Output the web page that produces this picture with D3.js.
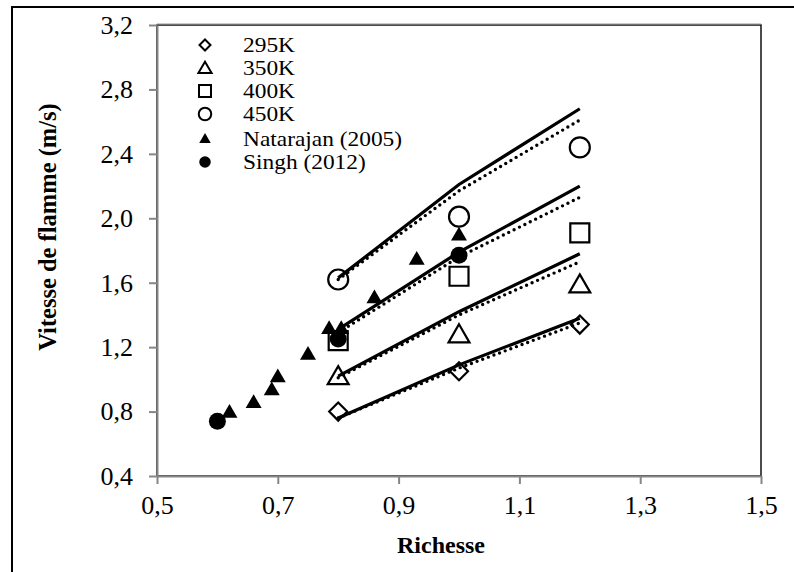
<!DOCTYPE html>
<html>
<head>
<meta charset="utf-8">
<script src="https://cdn.jsdelivr.net/npm/d3@7"></script>
<style>
  html, body { margin: 0; padding: 0; background: #fff; }
  svg { display: block; font-family: "Liberation Serif", "Times New Roman", serif; }
</style>
</head>
<body>
<svg id="chart" width="794" height="572"></svg>
<script>
// Equivalence ratio (richesse) values
const richesse = [0.8, 1.0, 1.2];

// Measured flame speeds (m/s) per initial temperature
const v295 = [0.80, 1.05, 1.34];
const v350 = [1.02, 1.28, 1.59];
const v400 = [1.24, 1.64, 1.91];
const v450 = [1.62, 2.01, 2.44];

// Computed curves: solid and dotted model lines per temperature
const solid295 = [0.76, 1.09, 1.38];
const solid350 = [1.02, 1.42, 1.78];
const solid400 = [1.31, 1.79, 2.20];
const solid450 = [1.63, 2.21, 2.68];
const dotted295 = [0.76, 1.07, 1.35];
const dotted350 = [1.01, 1.40, 1.73];
const dotted400 = [1.29, 1.76, 2.13];
const dotted450 = [1.62, 2.17, 2.61];

// Literature data
const natarajanX = [0.62, 0.66, 0.69, 0.70, 0.75, 0.785, 0.805, 0.86, 0.93, 1.0];
const natarajanY = [0.80, 0.86, 0.94, 1.02, 1.16, 1.32, 1.32, 1.51, 1.75, 1.90];
const singhX = [0.60, 0.80, 1.0];
const singhY = [0.74, 1.25, 1.77];

// Axes ticks
const xTicks = [0.5, 0.7, 0.9, 1.1, 1.3, 1.5];
const yTicks = [0.4, 0.8, 1.2, 1.6, 2.0, 2.4, 2.8, 3.2];

const legendLabels = ["295K", "350K", "400K", "450K", "Natarajan (2005)", "Singh (2012)"];

const svg = d3.select("#chart");
const locale = d3.formatLocale({ decimal: ",", thousands: " ", grouping: [3], currency: ["", "€"] });
const fmt = locale.format(".1f");

const x = d3.scaleLinear().domain([0.5, 1.5]).range([157, 761]);
const y = d3.scaleLinear().domain([0.4, 3.2]).range([476, 25]);

// Outer frame
svg.append("path")
  .attr("d", "M12,600 L12,7 L800,7")
  .attr("fill", "none").attr("stroke", "#000").attr("stroke-width", 2);

// Plot area border
svg.append("rect")
  .attr("x", x(0.5)).attr("y", y(3.2))
  .attr("width", x(1.5) - x(0.5)).attr("height", y(0.4) - y(3.2))
  .attr("fill", "none").attr("stroke", "#111").attr("stroke-width", 1.5);
svg.append("line")
  .attr("x1", x(0.5)).attr("x2", x(1.5)).attr("y1", y(3.2) - 1).attr("y2", y(3.2) - 1)
  .attr("stroke", "#999").attr("stroke-width", 1);

// Axes
const xAxis = svg.append("g")
  .attr("transform", `translate(0,${y(0.4)})`)
  .call(d3.axisBottom(x).tickValues(xTicks).tickFormat(fmt).tickSize(8).tickSizeOuter(0).tickPadding(12));
const yAxis = svg.append("g")
  .attr("transform", `translate(${x(0.5)},0)`)
  .call(d3.axisLeft(y).tickValues(yTicks).tickFormat(fmt).tickSize(8).tickSizeOuter(0).tickPadding(16));

[xAxis, yAxis].forEach(g => {
  g.select(".domain").attr("stroke", "#868686").attr("stroke-width", 2);
  g.selectAll(".tick line").attr("stroke", "#868686").attr("stroke-width", 2);
  g.selectAll(".tick text")
    .attr("fill", "#000")
    .style("font-family", "'Liberation Serif', serif")
    .style("font-size", "26px");
});

// Axis titles
svg.append("text")
  .attr("x", 441).attr("y", 553)
  .attr("text-anchor", "middle")
  .style("font-size", "24px").style("font-weight", "bold")
  .text("Richesse");
svg.append("text")
  .attr("transform", "translate(56,227) rotate(-90)")
  .attr("text-anchor", "middle")
  .style("font-size", "24.5px").style("font-weight", "bold")
  .text("Vitesse de flamme (m/s)");

// Marker shapes
function markerPath(type, s) {
  const h = s / 2;
  switch (type) {
    case "diamond": return `M0,${-h}L${h},0L0,${h}L${-h},0Z`;
    case "triangle": return `M0,${-h * 1.05}L${h * 1.1},${h * 0.85}L${-h * 1.1},${h * 0.85}Z`;
    case "square": return `M${-h},${-h}H${h}V${h}H${-h}Z`;
    case "circle": return `M${h},0A${h},${h} 0 1,1 ${-h},0A${h},${h} 0 1,1 ${h},0Z`;
  }
}

const openSeries = [
  { vals: v295, type: "diamond", size: 18 },
  { vals: v350, type: "triangle", size: 19 },
  { vals: v400, type: "square", size: 19 },
  { vals: v450, type: "circle", size: 20 }
];

const gMarks = svg.append("g");
openSeries.forEach(s => {
  gMarks.selectAll(null)
    .data(richesse.map((r, i) => [r, s.vals[i]]))
    .join("path")
    .attr("transform", d => `translate(${x(d[0])},${y(d[1])})`)
    .attr("d", markerPath(s.type, s.size))
    .attr("fill", "none").attr("stroke", "#000").attr("stroke-width", 2.2);
});

// Model lines
const line = d3.line().x((d, i) => x(richesse[i])).y(d => y(d));
const gLines = svg.append("g");
[dotted295, dotted350, dotted400, dotted450].forEach(vals => {
  gLines.append("path").datum(vals).attr("d", line)
    .attr("fill", "none").attr("stroke", "#000").attr("stroke-width", 3.4)
    .attr("stroke-linecap", "round").attr("stroke-dasharray", "0 6");
});
[solid295, solid350, solid400, solid450].forEach(vals => {
  gLines.append("path").datum(vals).attr("d", line)
    .attr("fill", "none").attr("stroke", "#000").attr("stroke-width", 3.2);
});

// Literature points
svg.append("g").selectAll("path")
  .data(natarajanX.map((v, i) => [v, natarajanY[i]]))
  .join("path")
  .attr("transform", d => `translate(${x(d[0])},${y(d[1])})`)
  .attr("d", markerPath("triangle", 14.5))
  .attr("fill", "#000");
svg.append("g").selectAll("circle")
  .data(singhX.map((v, i) => [v, singhY[i]]))
  .join("circle")
  .attr("cx", d => x(d[0])).attr("cy", d => y(d[1]))
  .attr("r", 8.5).attr("fill", "#000");

// Legend
const legendY = [45, 68, 91, 114, 138.5, 162];
const legend = svg.append("g");
const legendMarks = [
  { type: "diamond", size: 11, fill: "none" },
  { type: "triangle", size: 12, fill: "none" },
  { type: "square", size: 12, fill: "none" },
  { type: "circle", size: 12.5, fill: "none" },
  { type: "triangle", size: 10.5, fill: "#000" },
  { type: "circle", size: 11.5, fill: "#000" }
];
legendLabels.forEach((lab, i) => {
  const m = legendMarks[i];
  legend.append("path")
    .attr("transform", `translate(205,${legendY[i]})`)
    .attr("d", markerPath(m.type, m.size))
    .attr("fill", m.fill)
    .attr("stroke", m.fill === "none" ? "#000" : "none")
    .attr("stroke-width", 2);
  legend.append("text")
    .attr("transform", `translate(243,${legendY[i]}) scale(1.17,1)`)
    .attr("dy", "0.35em")
    .style("font-size", "20px")
    .text(lab);
});
</script>
</body>
</html>
